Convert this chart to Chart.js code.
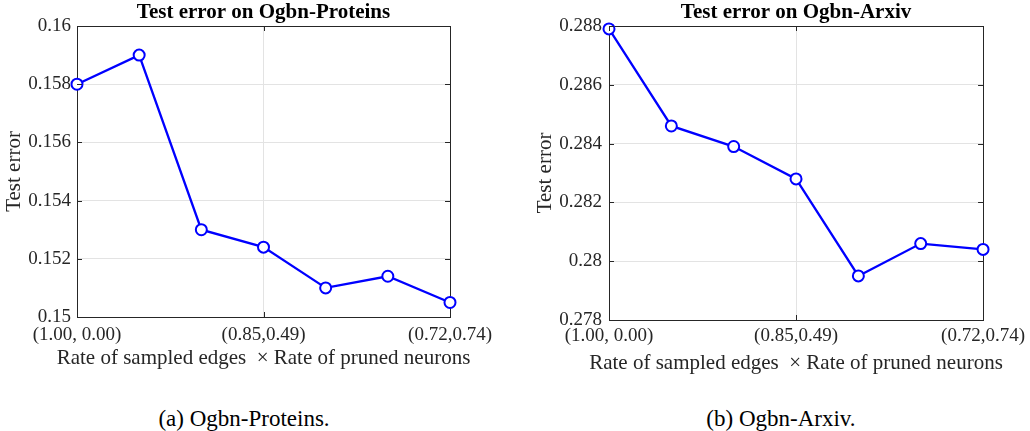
<!DOCTYPE html>
<html>
<head>
<meta charset="utf-8">
<script src="https://cdn.jsdelivr.net/npm/chart.js@4"></script>
<style>
  body { margin: 0; background: #fff; }
  #wrap { position: relative; width: 1030px; height: 431px; overflow: hidden; }
  canvas { position: absolute; top: 0; }
  .caption {
    position: absolute; top: 418px; transform: translate(-50%, -50%);
    font-family: 'Liberation Serif', 'Times New Roman', serif; font-size: 23px;
    color: #000; white-space: nowrap; line-height: 1;
  }
</style>
</head>
<body>
<div id="wrap">
  <canvas id="proteinsChart" width="515" height="380" style="left:0"></canvas>
  <canvas id="arxivChart" width="515" height="380" style="left:515px"></canvas>
  <div class="caption" style="left:244px">(a) Ogbn-Proteins.</div>
  <div class="caption" style="left:781px">(b) Ogbn-Arxiv.</div>
</div>
<script>
// x categories: only every third run gets a label
const xLabels = ['(1.00, 0.00)', '', '', '(0.85,0.49)', '', '', '(0.72,0.74)'];
const proteinsError = [0.1580, 0.1590, 0.1530, 0.1524, 0.1510, 0.1514, 0.1505];
const arxivError = [0.2879, 0.2846, 0.2839, 0.2828, 0.2795, 0.2806, 0.2804];
const proteinsRange = [0.15, 0.16];
const arxivRange = [0.278, 0.288];
const yStep = 0.002;
const xTitle = 'Rate of sampled edges\u00A0 \u00D7 Rate of pruned neurons';

const serif = "'Liberation Serif', 'Times New Roman', serif";
const axisColor = '#262626';
const gridColor = '#e3e3e3';

// matlab style tick marks pointing inside the box, plus the titles
// (drawn here so the x title is not squeezed to the plot width)
const boxExtras = {
    id: 'boxExtras',
    afterDatasetsDraw(chart, args, opts) {
        const {ctx, chartArea: a, scales} = chart;
        const cx = (a.left + a.right) / 2;
        ctx.save();
        ctx.strokeStyle = axisColor;
        ctx.lineWidth = 1;
        ctx.beginPath();
        scales.x.ticks.forEach(function(t, i) {
            if (!xLabels[i]) return;
            const px = Math.round(scales.x.getPixelForTick(i)) + 0.5;
            ctx.moveTo(px, a.bottom); ctx.lineTo(px, a.bottom - 5);
            ctx.moveTo(px, a.top); ctx.lineTo(px, a.top + 5);
        });
        scales.y.ticks.forEach(function(t, i) {
            const py = Math.round(scales.y.getPixelForTick(i)) + 0.5;
            ctx.moveTo(a.left, py); ctx.lineTo(a.left + 5, py);
            ctx.moveTo(a.right, py); ctx.lineTo(a.right - 5, py);
        });
        ctx.stroke();

        ctx.textAlign = 'center';
        ctx.textBaseline = 'alphabetic';
        ctx.fillStyle = '#000';
        ctx.font = 'bold 21px ' + serif;
        ctx.fillText(opts.text, cx, 17.5);

        ctx.fillStyle = axisColor;
        ctx.font = '21px ' + serif;
        ctx.fillText(xTitle, cx, a.bottom + opts.xTitleBase);
        ctx.restore();
    }
};

function makeChart(id, title, values, range, s) {
    return new Chart(document.getElementById(id), {
        type: 'line',
        data: {
            labels: xLabels,
            datasets: [{
                data: values,
                borderColor: '#0000ff',
                borderWidth: 2.3,
                pointRadius: 5.5,
                pointHoverRadius: 5.5,
                pointBorderWidth: 2,
                pointBackgroundColor: '#ffffff',
                pointBorderColor: '#0000ff',
                tension: 0,
                clip: false
            }]
        },
        options: {
            responsive: false,
            animation: false,
            layout: { padding: { left: 0, right: s.padRight, top: 26, bottom: s.padBottom } },
            plugins: {
                legend: { display: false },
                tooltip: { enabled: false },
                title: { display: false },
                boxExtras: { text: title, xTitleBase: s.xTitleBase }
            },
            scales: {
                x: {
                    type: 'category',
                    offset: false,
                    border: { color: axisColor, width: 1 },
                    grid: {
                        drawTicks: false,
                        color: function(c) {
                            if (c.index === xLabels.length - 1) return axisColor;
                            if (c.index > 0 && xLabels[c.index]) return gridColor;
                            return 'rgba(0,0,0,0)';
                        }
                    },
                    ticks: {
                        autoSkip: false, maxRotation: 0, padding: s.xTickPad,
                        color: axisColor, font: { family: serif, size: 19 }
                    },
                    afterFit: function(scale) { scale.height = s.xHeight; }
                },
                y: {
                    min: range[0],
                    max: range[1],
                    border: { color: axisColor, width: 1 },
                    grid: {
                        drawTicks: false,
                        color: function(c) {
                            return c.index === c.scale.ticks.length - 1 ? axisColor : gridColor;
                        }
                    },
                    ticks: {
                        stepSize: yStep, padding: s.yTickPad,
                        color: axisColor, font: { family: serif, size: 19 },
                        callback: function(v) { return parseFloat(v.toFixed(3)).toString(); }
                    },
                    title: {
                        display: true,
                        text: 'Test error',
                        color: axisColor,
                        font: { family: serif, size: 21 },
                        padding: { top: s.yTitlePad, bottom: 0 }
                    },
                    afterFit: function(scale) { scale.width = s.yWidth; }
                }
            }
        },
        plugins: [boxExtras]
    });
}

document.addEventListener('DOMContentLoaded', function() {
    makeChart('proteinsChart', 'Test error on Ogbn-Proteins', proteinsError, proteinsRange,
        { padRight: 65, padBottom: 9, xHeight: 54, xTickPad: 7, xTitleBase: 47,
          yWidth: 77, yTickPad: 6, yTitlePad: 2 });
    makeChart('arxivChart', 'Test error on Ogbn-Arxiv', arxivError, arxivRange,
        { padRight: 42, padBottom: 4, xHeight: 56, xTickPad: 5, xTitleBase: 49,
          yWidth: 94, yTickPad: 7, yTitlePad: 18 });
});
</script>
</body>
</html>
